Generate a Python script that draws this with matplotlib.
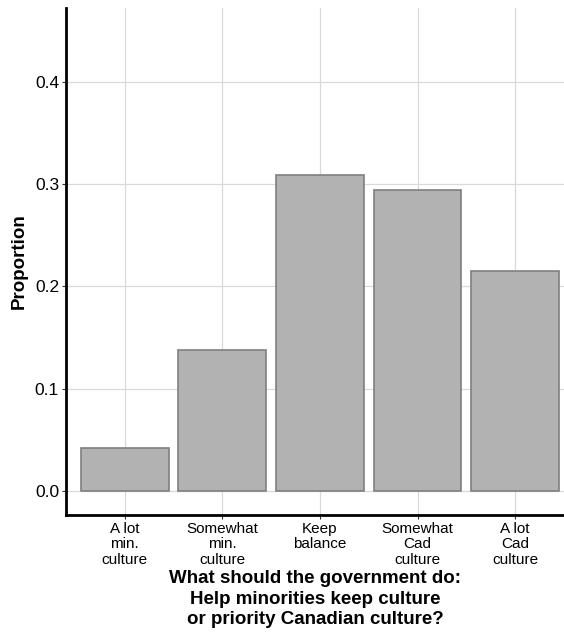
import matplotlib
matplotlib.use('Agg')
import matplotlib.pyplot as plt

plt.rcParams['font.family'] = ['Liberation Sans', 'DejaVu Sans']

categories = ['A lot\nmin.\nculture', 'Somewhat\nmin.\nculture', 'Keep\nbalance',
              'Somewhat\nCad\nculture', 'A lot\nCad\nculture']
proportions = [0.042, 0.138, 0.309, 0.294, 0.215]
yticks = [0.0, 0.1, 0.2, 0.3, 0.4]

fig = plt.figure(figsize=(5.64, 6.39), dpi=100)
ax = fig.add_axes([0.117, 0.194, 0.883, 0.7935])

x = list(range(len(categories)))
ax.bar(x, proportions, width=0.9, color='#b2b2b2', edgecolor='#7f7f7f', linewidth=1.2, zorder=3)

ax.set_xlim(-0.6, 4.5)
ax.set_ylim(-0.0235, 0.472)
ax.set_xticks(x)
ax.set_xticklabels(categories, fontsize=11, linespacing=1.13)
ax.set_yticks(yticks)
ax.set_yticklabels(['0.0', '0.1', '0.2', '0.3', '0.4'], fontsize=12.5)

ax.grid(True, color='#d9d9d9', linewidth=0.9, zorder=0)
for s in ['top', 'right']:
    ax.spines[s].set_visible(False)
for s in ['left', 'bottom']:
    ax.spines[s].set_linewidth(2)
ax.tick_params(axis='both', length=3, width=0.8, color='#333333', pad=2)

ax.set_xlabel('What should the government do:\nHelp minorities keep culture\nor priority Canadian culture?',
              fontsize=13.5, fontweight='bold', linespacing=1.3, labelpad=2)
ax.set_ylabel('Proportion', fontsize=13.5, fontweight='bold', labelpad=5)

fig.savefig('out.png', dpi=100)
